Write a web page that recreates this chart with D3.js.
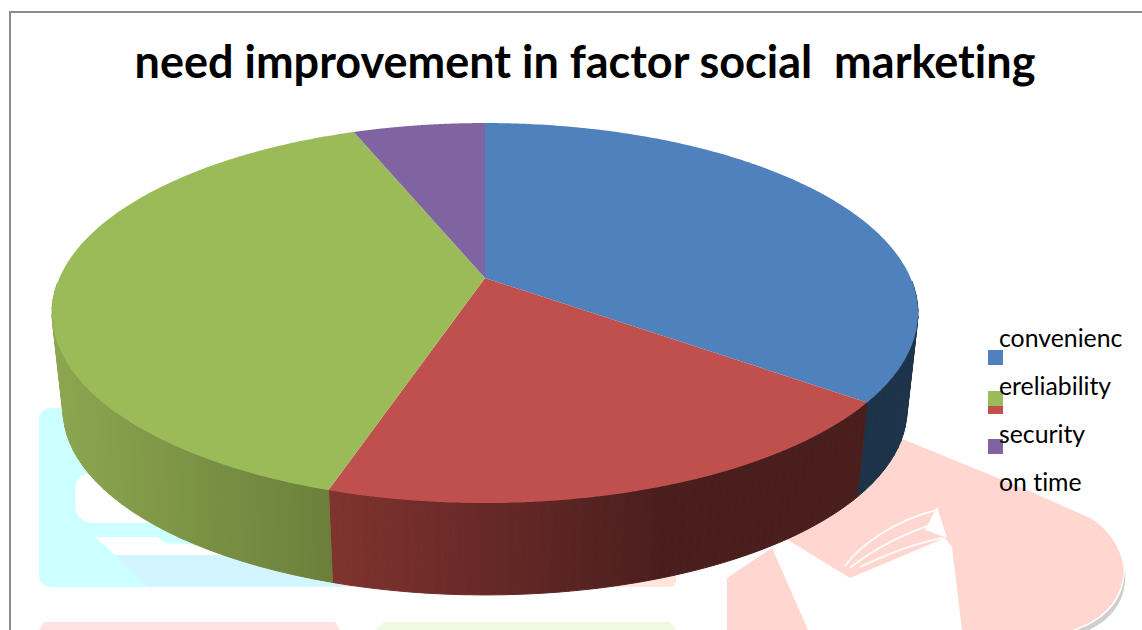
<!DOCTYPE html>
<html><head><meta charset="utf-8">
<script src="https://cdn.jsdelivr.net/npm/d3@7"></script>
<style>html,body{margin:0;padding:0;background:#fff}svg{display:block}text{font-family:Lato,"Open Sans",sans-serif;white-space:pre;font-variant-ligatures:none;font-feature-settings:"liga" 0}</style>
</head><body><svg id="c" width="1142" height="630"></svg>
<script>
const titleText = "need improvement in factor social  marketing";
const categories = ["convenience","reliability","security","on time"];
const values = [18,10,20,3];
const colors = ["#4f81bd","#c0504d","#9bbb59","#8064a2"];
const wallFrom = ["#1d3349","#80332f","#8ca74f","#4f3d66"];
const wallTo = ["#1d3349","#4b1e1e","#6b7f3b","#4f3d66"];
const legendLines = ["convenienc","ereliability","security","on time"];

const svg = d3.select("#c");

// ---------- faded backdrop ----------
const bg = svg.append("g");
bg.append("rect").attr("x",39).attr("y",408).attr("width",310).attr("height",179).attr("rx",12).attr("fill","#ccffff");
bg.append("path").attr("d","M115 555L360 555L360 587L148 587Z").attr("fill","#d2f5ff");
bg.append("path").attr("d","M85 474L300 474L300 523L90 523Q76 520 75 505L75 490Q76 476 85 474Z").attr("fill","#fff");
bg.append("path").attr("d","M95 537L158 537Q165 545 175 543L300 555L115 555Z").attr("fill","#fff");
bg.append("rect").attr("x",340).attr("y",500).attr("width",336).attr("height",87).attr("rx",6).attr("fill","#ffe6dc");
bg.append("path").attr("d","M39 630L44 622L335 622L340 630Z").attr("fill","#ffe3e3");
bg.append("path").attr("d","M376 630L384 622L670 622L676 630Z").attr("fill","#edf9e3");
bg.append("path").attr("d","M1125 568C1125 600 1105 622 1070 632L1085 632C1112 620 1128 600 1125 568Z").attr("fill","#cfcfcf");
bg.append("path").attr("d","M880 420L900 438L1027 490L1090 518C1110 530 1122 550 1124 570C1122 600 1103 620 1072 630L962 630L952 547L945 538L850 578L788 540L775 530L800 480Z").attr("fill","#ffd6d0");
bg.append("path").attr("d","M727 578L772 548L808 630L727 630Z").attr("fill","#ffd6d0");
bg.append("path").attr("d","M937 507L947 538L925 530Z").attr("fill","#fff");
bg.append("path").attr("d","M845 566C860 545 895 520 937 510M850 568C875 548 905 533 937 523M860 567C885 555 915 543 943 538")
  .attr("fill","none").attr("stroke","#fff").attr("stroke-width",2).attr("opacity",.85);

// ---------- frame ----------
svg.append("path").attr("d","M10 630L10 12L1142 12").attr("fill","none").attr("stroke","#8c8c8c").attr("stroke-width",2);

// ---------- perspective pie ----------
const cx = 485, cy = 278, sx = 425.6, a = 132.3, k = -0.1842;
const vanishY = 4110, depth = 0.9745;
const top3d = ang => {
  const u = Math.sin(ang), v = -Math.cos(ang), w = 1 + k*v;
  return [cx + sx*u/w, (a*v + cy)/w];
};
const bottom3d = p => [cx + depth*(p[0]-cx), vanishY + depth*(p[1]-vanishY)];
const line = d3.line();
const pie = d3.pie().sort(null).value(d=>d);
const arcs = pie(values);
const color = d3.scaleOrdinal().domain(d3.range(values.length)).range(colors);
const angles = (d,n) => d3.range(0,n+1).map(i => d.startAngle + (d.endAngle-d.startAngle)*i/n);
const sample = (d,n) => angles(d,n).map(top3d);

// side wall: front half only, narrow quads sharing one continuous gradient
const wallRange = [[860,920],[329,660],[52,333],[52,333]];
const defs = svg.append("defs");
arcs.forEach((d,i)=>{
  const g = defs.append("linearGradient").attr("id","w"+i).attr("gradientUnits","userSpaceOnUse")
    .attr("x1",wallRange[i][0]).attr("x2",wallRange[i][1]).attr("y1",0).attr("y2",0);
  g.append("stop").attr("offset",0).attr("stop-color",wallFrom[i]);
  g.append("stop").attr("offset",1).attr("stop-color",wallTo[i]);
  const front = angles(d,60).filter(t => -Math.cos(t) > 0).map(top3d);
  svg.append("g").selectAll("path").data(d3.pairs(front)).join("path")
    .attr("d",q=>line([q[0],q[1],bottom3d(q[1]),bottom3d(q[0])])+"Z")
    .attr("fill",`url(#w${i})`).attr("stroke",`url(#w${i})`).attr("stroke-width",1);
});
svg.append("g").selectAll("path").data(arcs).join("path")
  .attr("fill",(d,i)=>color(i))
  .attr("d",d=>line([[cx,cy]].concat(sample(d,200)))+"Z");

// ---------- title ----------
svg.append("text").attr("x",585).attr("y",78).attr("text-anchor","middle")
  .attr("font-size",45).attr("font-weight",700).attr("fill","#000").text(titleText);

// ---------- legend ----------
const swatchY = [350,399,391,439];
const yLeg = d3.scaleBand().domain(d3.range(4)).range([318,510]);
svg.append("g").selectAll("rect").data(d3.range(4)).join("rect")
  .attr("x",988).attr("width",15).attr("height",15)
  .attr("y",i=>swatchY[i]).attr("fill",i=>color(i));
svg.append("g").selectAll("text").data(legendLines).join("text")
  .attr("x",999).attr("y",(d,i)=>yLeg(i)+29).attr("font-size",24.8).attr("fill","#000").text(d=>d);
</script></body></html>
